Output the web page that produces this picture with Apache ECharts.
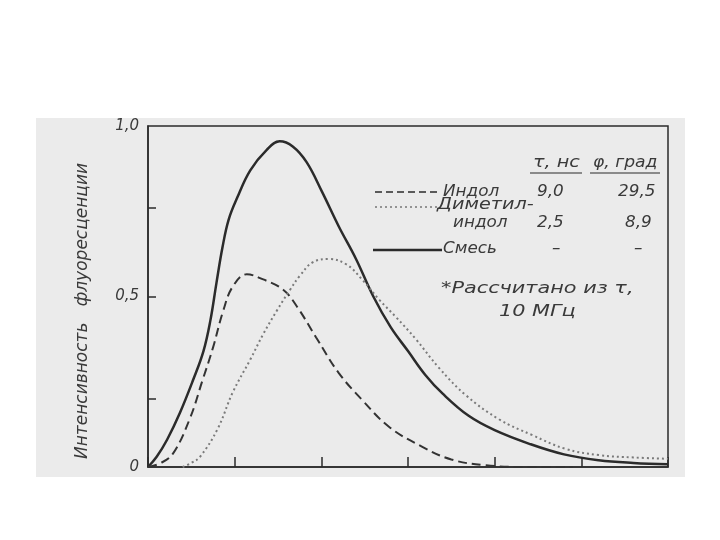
<!DOCTYPE html>
<html>
<head>
<meta charset="utf-8">
<script src="https://cdn.jsdelivr.net/npm/echarts@6/dist/echarts.min.js"></script>
<style>
  html, body { margin: 0; padding: 0; background: #fff; }
  #chart { width: 720px; height: 540px; }
</style>
</head>
<body>
<div id="chart"></div>
<script>
// смесь (сплошная)
const mixX = [0, 0.1, 0.22, 0.37, 0.52, 0.64, 0.72, 0.79, 0.86, 0.93, 1.03, 1.18, 1.37, 1.52, 1.67, 1.83, 2.01, 2.2, 2.4, 2.6, 2.8, 3.0, 3.2, 3.4, 3.7, 4.0, 4.4, 4.8, 5.2, 5.6, 6.0];
const mixY = [0, 0.03, 0.08, 0.16, 0.255, 0.34, 0.43, 0.54, 0.645, 0.725, 0.79, 0.87, 0.93, 0.955, 0.94, 0.894, 0.806, 0.706, 0.61, 0.50, 0.41, 0.34, 0.27, 0.215, 0.15, 0.108, 0.068, 0.037, 0.02, 0.012, 0.008];
// индол (штрих)
const indolX = [0, 0.15, 0.29, 0.48, 0.63, 0.75, 0.87, 0.98, 1.14, 1.33, 1.56, 1.72, 1.94, 2.2, 2.47, 2.78, 3.16, 3.5, 3.9, 4.4, 4.9];
const indolY = [0, 0.012, 0.04, 0.14, 0.255, 0.35, 0.46, 0.53, 0.565, 0.55, 0.52, 0.47, 0.38, 0.276, 0.197, 0.118, 0.06, 0.022, 0.005, 0, 0];
// диметилиндол (точки)
const dmiX = [0.4, 0.5, 0.6, 0.8, 0.98, 1.18, 1.33, 1.49, 1.64, 1.75, 1.9, 2.09, 2.29, 2.47, 2.67, 2.86, 3.09, 3.36, 3.67, 4.05, 4.43, 4.82, 5.2, 5.6, 6.0];
const dmiY = [0, 0.012, 0.03, 0.11, 0.22, 0.315, 0.39, 0.46, 0.52, 0.56, 0.60, 0.61, 0.594, 0.55, 0.49, 0.44, 0.375, 0.29, 0.21, 0.14, 0.094, 0.053, 0.035, 0.028, 0.024];

const yTickValues = [0.2, 0.5, 0.76];
const yLabelValues = [0, 0.5, 1];
const yTickLabels = { 0: '0', 0.5: '0,5', 1: '1,0' };

const legendRows = [
  ['Индол', '9,0', '29,5'],
  ['индол', '2,5', '8,9'],
  ['Смесь', '–', '–']
];

function pairs(xs, ys) {
  return xs.map((x, i) => [x, ys[i]]);
}

const ink = '#2b2b2b';
const txt = { fontFamily: 'DejaVu Sans', fontStyle: 'italic', fontSize: 16, fill: '#3a3a3a' };

function label(text, x, y, sx) {
  return {
    type: 'text', x: x, y: y, scaleX: sx || 1.05,
    style: Object.assign({ text: text, textVerticalAlign: 'middle' }, txt)
  };
}
function rule(x1, x2, y, dash, w, color) {
  return { type: 'line', shape: { x1: x1, y1: y, x2: x2, y2: y }, style: { stroke: color || ink, lineWidth: w || 1.5, lineDash: dash || null } };
}

const myChart = echarts.init(document.getElementById('chart'));
myChart.setOption({
  animation: false,
  backgroundColor: '#fff',
  grid: {
    left: 148, top: 126, width: 520, height: 341,
    show: true, borderColor: ink, borderWidth: 1.5, backgroundColor: 'transparent'
  },
  xAxis: {
    type: 'value', min: 0, max: 6, interval: 1,
    axisLine: { lineStyle: { color: ink, width: 1.5 } },
    axisTick: { inside: true, length: 10, lineStyle: { color: ink, width: 1.5 } },
    axisLabel: { show: false },
    splitLine: { show: false }
  },
  yAxis: {
    type: 'value', min: 0, max: 1, interval: 0.25,
    axisLine: { lineStyle: { color: ink, width: 1.5 } },
    axisTick: { inside: true, length: 8, customValues: yTickValues, lineStyle: { color: ink, width: 1.5 } },
    axisLabel: {
      margin: 9, fontFamily: 'DejaVu Sans', fontStyle: 'italic', fontSize: 15, color: '#3a3a3a',
      customValues: yLabelValues,
      formatter: v => yTickLabels[v] || ''
    },
    splitLine: { show: false }
  },
  graphic: [
    { type: 'rect', z: -10, shape: { x: 36, y: 118, width: 649, height: 359 }, style: { fill: '#ebebeb' } },
    {
      type: 'text', x: 83, y: 311, rotation: Math.PI / 2,
      style: Object.assign({ text: 'Интенсивность   флуоресценции', align: 'center', verticalAlign: 'middle' }, txt, { fontSize: 17 })
    },
    label('τ, нс', 533, 163, 1.2),
    rule(530, 582, 173, null, 1.2),
    label('φ, град', 593, 163, 1.07),
    rule(590, 660, 173, null, 1.2),
    rule(375, 440, 192, [7, 4], 1.5),
    label(legendRows[0][0], 443, 192),
    label(legendRows[0][1], 537, 192),
    label(legendRows[0][2], 618, 192),
    rule(375, 437, 207, [2, 3], 1.5, '#777'),
    label('Диметил-', 437, 205, 1.2),
    label(legendRows[1][0], 453, 223),
    label(legendRows[1][1], 537, 223),
    label(legendRows[1][2], 625, 223),
    rule(373, 442, 250, null, 2.5),
    label(legendRows[2][0], 443, 249),
    label(legendRows[2][1], 552, 249),
    label(legendRows[2][2], 634, 249),
    label('*Рассчитано из τ,', 441, 289, 1.3),
    label('10 МГц', 499, 312, 1.3)
  ],
  series: [
    {
      name: 'Смесь', type: 'line', smooth: 0.4, showSymbol: false,
      lineStyle: { color: ink, width: 2.5 },
      data: pairs(mixX, mixY)
    },
    {
      name: 'Индол', type: 'line', smooth: 0.4, showSymbol: false,
      lineStyle: { color: '#333', width: 2, type: [9, 5] },
      data: pairs(indolX, indolY)
    },
    {
      name: 'Диметилиндол', type: 'line', smooth: 0.4, showSymbol: false,
      lineStyle: { color: '#7a7a7a', width: 2, type: [2, 3] },
      data: pairs(dmiX, dmiY)
    }
  ]
});
</script>
</body>
</html>
